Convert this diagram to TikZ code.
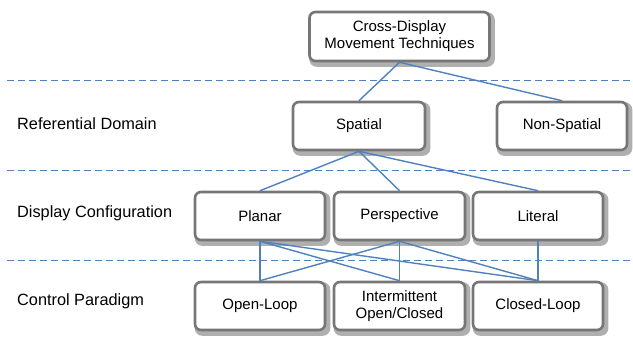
\documentclass[tikz,border=0pt]{standalone}
\usepackage{fontspec}
\setmainfont{Liberation Sans}
\usepackage{tikz}
\usetikzlibrary{backgrounds}
\definecolor{linkblue}{RGB}{79,129,189}
\definecolor{boxgray}{RGB}{118,118,118}
\definecolor{shadowgray}{RGB}{175,175,175}

\begin{document}
\begin{tikzpicture}[x=1pt, y=-1pt,
    box/.style={draw=boxgray, line width=2.6pt, rounded corners=6pt, fill=white,
        minimum height=48pt, inner sep=0pt, align=center,
        font=\fontsize{15}{17}\selectfont},
    boxshadow/.style={draw=shadowgray, fill=shadowgray, line width=3pt, rounded corners=6pt},
    level/.style={anchor=west, inner sep=0pt, font=\fontsize{16.3}{19}\selectfont},
    link/.style={draw=linkblue, line width=1.4pt},
    sep/.style={draw=linkblue, line width=1pt, dash pattern=on 7pt off 4pt}]

        \useasboundingbox (0,0) rectangle (633,345);

        % Trennlinien
        \draw[sep] (7,81) -- (633,81);
        \draw[sep] (7,171) -- (633,171);
        \draw[sep] (7,260) -- (633,260);

        % Ebenen
        \node[level] at (17,124) (refdom) {Referential Domain};
        \node[level] at (17,213) (dispconf) {Display Configuration};
        \node[level] at (17,301) (ctrlpar) {Control Paradigm};

        % Wurzel
        \node[box, minimum width=180pt, minimum height=49pt] at (399.5,36.5) (root) {Cross-Display\\Movement Techniques};

        % Referential Domain
        \node[box, minimum width=132pt] at (359,126) (spatial) {Spatial};
        \node[box, minimum width=130pt] at (562,126) (nonspatial) {Non-Spatial};

        % Display Configuration
        \node[box, minimum width=130pt] at (260,216) (planar) {Planar};
        \node[box, minimum width=131pt] at (399.5,216) (persp) {Perspective};
        \node[box, minimum width=130pt] at (538,216) (literal) {Literal};

        % Control Paradigm
        \node[box, minimum width=130pt] at (260,306) (openloop) {Open-Loop};
        \node[box, minimum width=131pt] at (399.5,306) (intermit) {Intermittent\\Open/Closed};
        \node[box, minimum width=130pt] at (538,306) (closedloop) {Closed-Loop};

        % Schatten
        \begin{scope}[on background layer]
        \foreach \n in {root, spatial, nonspatial, planar, persp, literal, openloop, intermit, closedloop}
            \draw[boxshadow] ([shift={(2.5,3)}]\n.north west) rectangle ([shift={(2.5,3)}]\n.south east);
        \end{scope}

        % Verbindungen
        \draw[link] (root.south) -- (spatial.north);
        \draw[link] (root.south) -- (nonspatial.north);
        \draw[link] (spatial.south) -- (planar.north);
        \draw[link] (spatial.south) -- (persp.north);
        \draw[link] (spatial.south) -- (literal.north);
        \foreach \a in {planar, persp}
            \foreach \b in {openloop, intermit, closedloop}
                \draw[link] (\a.south) -- (\b.north);
        \draw[link] (literal.south) -- (closedloop.north);

    \end{tikzpicture}
\end{document}
